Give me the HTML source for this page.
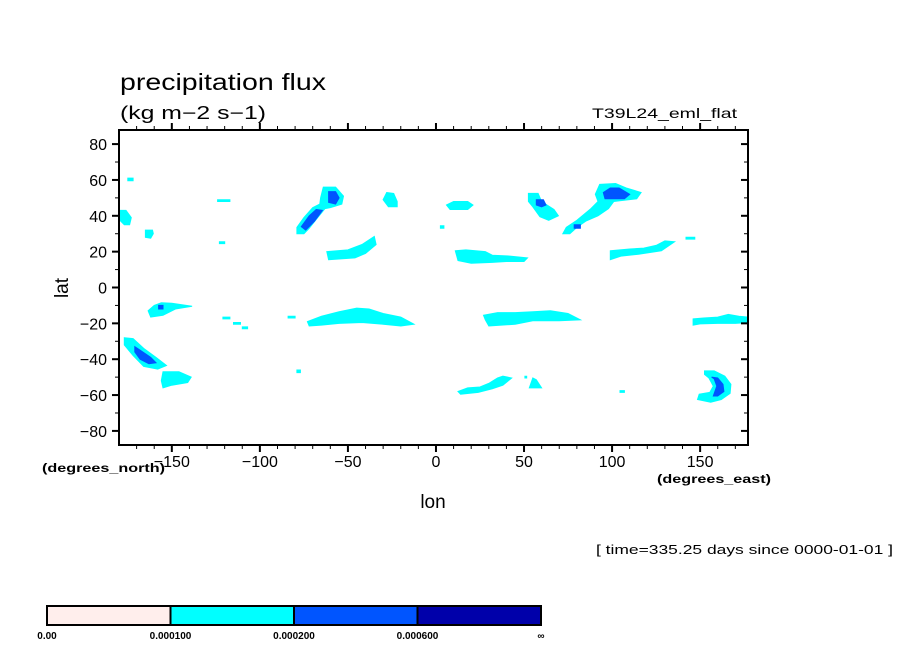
<!DOCTYPE html>
<html><head><meta charset="utf-8"><style>
body{margin:0;background:#fff;}
svg{display:block;font-family:"Liberation Sans",sans-serif;}
</style></head><body>
<svg id="chart" width="904" height="654" viewBox="0 0 904 654">
<text x="120" y="90" font-size="23" textLength="206" lengthAdjust="spacingAndGlyphs">precipitation flux</text>
<text x="120" y="119" font-size="18" textLength="146" lengthAdjust="spacingAndGlyphs">(kg m−2 s−1)</text>
<text x="592" y="118" font-size="14" textLength="145" lengthAdjust="spacingAndGlyphs">T39L24_eml_flat</text>
<g id="fills"></g>
<g id="axes"></g>
<text x="68" y="288" font-size="19" text-anchor="middle" transform="rotate(-90 68 288)">lat</text>
<text x="433" y="508" font-size="19" text-anchor="middle">lon</text>
<text x="42" y="472" font-size="12" font-weight="bold" textLength="123" lengthAdjust="spacingAndGlyphs">(degrees_north)</text>
<text x="657" y="483" font-size="12" font-weight="bold" textLength="114" lengthAdjust="spacingAndGlyphs">(degrees_east)</text>
<text x="596" y="554" font-size="13" textLength="297" lengthAdjust="spacingAndGlyphs">[ time=335.25 days since 0000-01-01 ]</text>
<g id="cbar"></g>
</svg>
<script>
const levelLabels = ["0.00","0.000100","0.000200","0.000600","∞"];
const levelColors = ["#ffeeec","#00ffff","#0055ff","#0000aa"];
const xTicks = [-150,-100,-50,0,50,100,150];
const yTicks = [-80,-60,-40,-20,0,20,40,60,80];
const cyanRegions = [
 [[-180,43],[-176,43],[-173,39],[-174,35],[-177,35],[-180,38]],
 [[-175,61],[-172,61],[-172,59.5],[-175,59.5]],
 [[-165,32],[-161,32],[-160.5,30],[-162,27.5],[-165,28]],
 [[-124,49],[-117,49],[-117,48],[-124,48]],
 [[-123,25.5],[-120,25.5],[-120,24.5],[-123,24.5]],
 [[-163.5,-13],[-160,-10],[-156,-8.5],[-150,-8.8],[-138.5,-10.5],[-148,-12],[-155,-15.5],[-162,-16.5]],
 [[-177,-28],[-172,-28.5],[-166,-34],[-159,-39],[-153,-43.5],[-158,-45.5],[-166,-44],[-172,-38],[-177,-32]],
 [[-155,-47],[-146,-47],[-139,-50],[-141,-53],[-150,-54.5],[-155,-56],[-156,-52]],
 [[-121,-16.5],[-117,-16.5],[-117,-17.5],[-121,-17.5]],
 [[-115,-19.5],[-111,-19.5],[-111,-20.5],[-115,-20.5]],
 [[-110,-22],[-107,-22],[-107,-23],[-110,-23]],
 [[-64,56],[-57,56],[-52.5,51],[-53.5,46.5],[-60,44.5],[-63,44],[-68,38],[-72,33],[-75,30],[-79,30],[-79,33.5],[-75,39],[-70,44.5],[-66,46.5],[-65.5,50]],
 [[-28,53],[-24,52.5],[-22,48],[-22,45],[-27,45],[-30,49]],
 [[-62,20],[-50,21],[-42,24],[-35,28.5],[-34,24],[-40,19],[-46,16.5],[-61,15.5]],
 [[-73,-19],[-65,-16],[-55,-13.5],[-45,-11.5],[-38,-12],[-30,-14.5],[-20,-16.5],[-12.5,-20.5],[-20,-21.5],[-30,-20.5],[-42,-19.5],[-55,-20],[-65,-21],[-72,-21.5]],
 [[-84,-16],[-80,-16],[-80,-17],[-84,-17]],
 [[-79,-46],[-77,-46],[-77,-47.5],[-79,-47.5]],
 [[2.5,34.5],[4.5,34.5],[4.5,33],[2.5,33]],
 [[6,46],[10,48],[18,48],[21,46],[18,43.5],[8,43.5]],
 [[52.5,52.5],[58,52.5],[60,48],[67,43.5],[69.5,40],[64,37.5],[59,39.5],[55,45],[52.5,48]],
 [[93,57.5],[102,58],[108,55.5],[116.5,53],[114,49.5],[105,48.5],[101,48],[98,44],[92,40],[85,37],[80,33.5],[76,30],[72,30],[74,33.5],[80,37.5],[88,44],[92,48],[90.5,52]],
 [[11,20.5],[17,21],[28,20],[32,18],[42,17.5],[52,16.5],[50,14.5],[40,14.5],[32,14],[20,13.5],[12.5,15]],
 [[99,20.5],[110,21.5],[118,22],[125,23.5],[130,26],[135.5,25.5],[128,20.5],[115,18.5],[105,17.5],[99,15.5]],
 [[27,-15.5],[35,-14],[45,-14],[55,-13.5],[65,-13],[75,-14.5],[82,-18],[70,-18.5],[55,-18.5],[45,-20.5],[30,-21.5],[28,-18]],
 [[12.5,-58],[18,-56],[25,-55.5],[30,-53.5],[35,-50.5],[38,-49.5],[43,-50.5],[38,-54.5],[32,-56.5],[24,-58.5],[14,-59.5]],
 [[55,-50.5],[57,-51.5],[60,-56],[53,-56]],
 [[50.5,-49.5],[51.5,-49.5],[51.5,-50.5],[50.5,-50.5]],
 [[142,28],[147,28],[147,27],[142,27]],
 [[146,-17.5],[152,-17],[160,-16.5],[166,-15],[172,-16],[177.2,-16.5],[177.2,-19.5],[170,-20],[160,-20],[150,-20.3],[146,-21]],
 [[152.5,-46.5],[158,-46.5],[164,-49.5],[167.5,-54],[167,-59],[162,-62.5],[156,-64],[148.5,-62.5],[149.5,-59.5],[155.5,-58.5],[157.5,-55],[155,-50.5],[152.5,-48.5]],
 [[104.5,-57.5],[107,-57.5],[107,-58.5],[104.5,-58.5]]
];
const blueRegions = [
 [[-157.5,-10],[-155,-10],[-155,-12],[-157.5,-12]],
 [[-171,-33],[-168,-35],[-162,-39],[-159,-42],[-163,-42.5],[-168,-40],[-171,-36]],
 [[-61,53.5],[-57,53.5],[-55,50],[-57,46.5],[-61,47.5]],
 [[-68,43.5],[-64.5,43],[-69,37],[-74,32],[-76.5,34],[-72,40]],
 [[57,49],[61,49],[62.5,46],[60,45],[57,46]],
 [[95,53],[99,55.5],[104,55.5],[110,52],[107,49.5],[96,49.5]],
 [[78.5,35],[82,35],[82,33],[78.5,33]],
 [[156.5,-50],[160,-50.5],[163,-54],[163.5,-58],[160,-60.5],[157.5,-60.5],[159.5,-55],[158,-51]]
];
const NS="http://www.w3.org/2000/svg";
const L=119,R=748,T=130,B=445,LON0=-180,LON1=177.19,LAT0=-87.86,LAT1=87.86;
function xs(lon){return L+(lon-LON0)/(LON1-LON0)*(R-L);}
function ys(lat){return B-(lat-LAT0)/(LAT1-LAT0)*(B-T);}
function mk(tag,attrs,parent){const e=document.createElementNS(NS,tag);for(const k in attrs)e.setAttribute(k,attrs[k]);parent.appendChild(e);return e;}
const fills=document.getElementById('fills');
function drawRegions(arr,color,name){arr.forEach(poly=>{
 const p=mk('polygon',{points:poly.map(q=>xs(q[0]).toFixed(1)+','+ys(q[1]).toFixed(1)).join(' '),fill:color,stroke:color,'stroke-width':1},fills);
 
 
});}
drawRegions(cyanRegions,levelColors[1],'contour-cyan');
drawRegions(blueRegions,levelColors[2],'contour-blue');
const ax=document.getElementById('axes');
const frame=mk('rect',{x:L,y:T,width:R-L,height:B-T,fill:'none',stroke:'#000','stroke-width':2},ax);


for(let lon=-170;lon<=170;lon+=10){const x=xs(lon);const maj=lon%50===0;const len=maj?7:4;
 mk('line',{x1:x,y1:B,x2:x,y2:B+len,stroke:'#000','stroke-width':maj?2:1},ax);
 mk('line',{x1:x,y1:T,x2:x,y2:T-len,stroke:'#000','stroke-width':maj?2:1},ax);}
for(let lat=-80;lat<=80;lat+=10){const y=ys(lat);const maj=lat%20===0;const len=maj?7:4;
 mk('line',{x1:L,y1:y,x2:L-len,y2:y,stroke:'#000','stroke-width':maj?2:1},ax);
 mk('line',{x1:R,y1:y,x2:R-len,y2:y,stroke:'#000','stroke-width':maj?2:1},ax);}
xTicks.forEach(v=>{const t=mk('text',{x:xs(v),y:B+22,'font-size':16,'text-anchor':'middle'},ax);t.textContent=v<0?'−'+(-v):String(v);
 
 });
yTicks.forEach(v=>{const t=mk('text',{x:L-12,y:ys(v)+6,'font-size':16,'text-anchor':'end'},ax);t.textContent=v<0?'−'+(-v):String(v);
 
 });
const cb=document.getElementById('cbar');const cx0=47,cw=123.5,cy=606,ch=19;
levelColors.forEach((c,i)=>{const r=mk('rect',{x:cx0+i*cw,y:cy,width:cw,height:ch,fill:c,stroke:'#000','stroke-width':2},cb);
 
 });
levelLabels.forEach((s,i)=>{const t=mk('text',{x:cx0+i*cw,y:639,'font-size':10,'font-weight':'bold','text-anchor':'middle'},cb);t.textContent=s;
 
 });
</script>
</body></html>
